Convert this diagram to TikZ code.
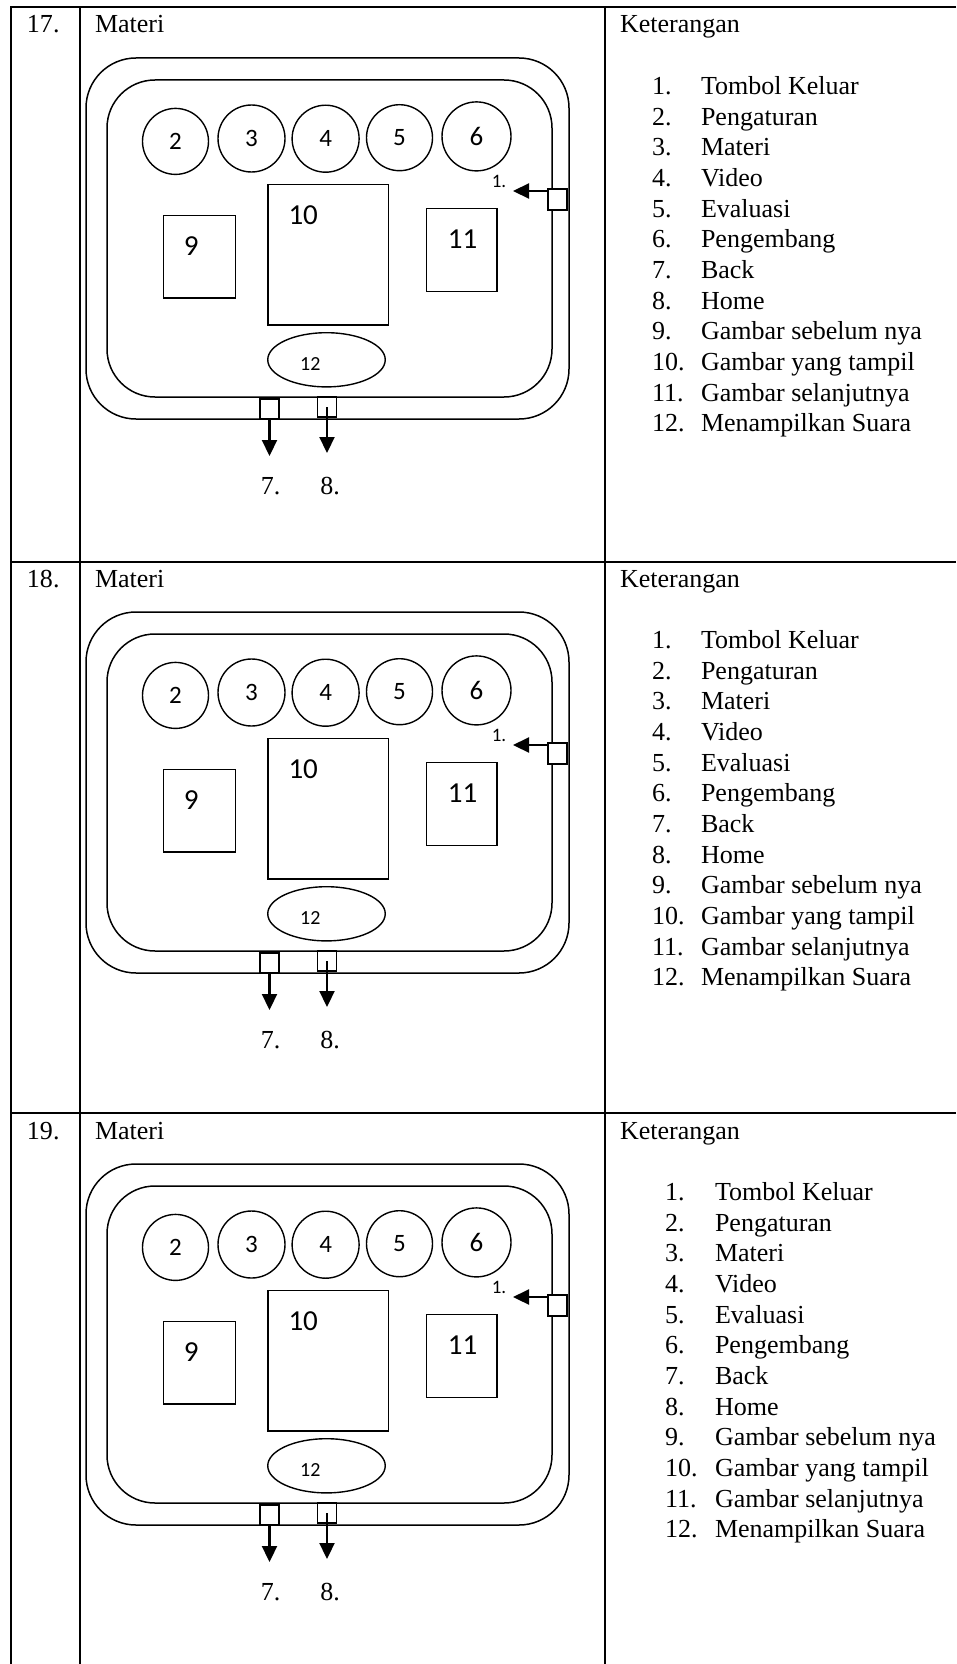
\documentclass[tikz,border=0pt]{standalone}
\usepackage{fontspec}
\setmainfont{Liberation Serif}
\newfontfamily\calibri{Carlito}
\usetikzlibrary{arrows.meta,shapes.geometric}

\begin{document}
\begin{tikzpicture}[x=1pt,y=-1pt,
  every node/.style={inner sep=0pt, outer sep=0pt},
  grid/.style={line width=1.8pt},
  shell/.style={draw, line width=1.5pt},
  btn/.style={draw, circle, line width=1.4pt, font=\calibri\fontsize{25}{25}\selectfont},
  pane/.style={draw, line width=1.4pt},
  paneno/.style={font=\calibri\fontsize{29}{29}\selectfont},
  key/.style={draw, fill=white, line width=1.4pt, minimum width=19pt, minimum height=20pt},
  arr/.style={line width=2.2pt, -{Triangle[length=16pt,width=15pt]}},
  serif/.style={font=\fontsize{26}{30.6}\selectfont, anchor=base west},
  tag/.style={font=\fontsize{26}{30.6}\selectfont, anchor=base},
]
\fill[white] (0,0) rectangle (956,1664);
\useasboundingbox (0,0) rectangle (956,1664);

% table rules
\draw[grid] (956,7.3) -- (11,7.3) -- (11,1664);
\draw[grid] (80,7.3) -- (80,1664);
\draw[grid] (605,7.3) -- (605,1664);
\draw[grid] (11,562) -- (956,562);
\draw[grid] (11,1113) -- (956,1113);

\foreach \i/\dy/\nx/\tx/\rw in {1/0/652/701/17, 2/554/652/701/18, 3/1106/665/715/19} {
  \begin{scope}[shift={(0,\dy)}]
    % row headings
    \node[serif] (no-\i) at (27,33) {\rw.};
    \node[serif] (ti-\i) at (95,33) {Materi};
    \node[serif] (ke-\i) at (620,33) {Keterangan};

    % screen frame
    \node[shell, rounded corners=50pt, minimum width=483pt, minimum height=361pt] (outer-\i) at (327.5,238.5) {};
    \node[shell, rounded corners=48pt, minimum width=445pt, minimum height=317pt] (inner-\i) at (329.5,238.5) {};

    % menu buttons
    \node[btn, minimum size=66pt] (c2-\i) at (175.5,141.4) {2};
    \node[btn, minimum size=67pt] (c3-\i) at (251.5,138.5) {3};
    \node[btn, minimum size=67pt] (c4-\i) at (325.6,138.7) {4};
    \node[btn, minimum size=66pt] (c5-\i) at (399.5,137.7) {5};
    \node[btn, minimum size=69pt, font=\calibri\fontsize{27}{27}\selectfont] (c6-\i) at (476.5,136.4) {6};

    % picture panes
    \node[pane, minimum width=72.5pt, minimum height=82.8pt] (p9-\i) at (199.5,256.7) {};
    \node[paneno] (l9-\i) at (191.3,246.4) {9};
    \node[pane, minimum width=120.6pt, minimum height=140.6pt] (p10-\i) at (328.1,254.6) {};
    \node[paneno] (l10-\i) at (303.2,215) {10};
    \node[pane, minimum width=70.6pt, minimum height=83.1pt] (p11-\i) at (461.6,250.2) {};
    \node[paneno] (l11-\i) at (462.6,239.2) {11};

    % sound button
    \node[pane, ellipse, minimum width=117.5pt, minimum height=54.2pt] (e12-\i) at (326.5,359.8) {};
    \node[font=\calibri\fontsize{20}{20}\selectfont] (l12-\i) at (310.3,363.7) {12};

    % edge keys
    \node[key, minimum height=21pt] (b1-\i) at (557.5,199.5) {};
    \node[key] (b7-\i) at (269.5,409) {};
    \node[key] (b8-\i) at (327,407) {};

    \coordinate (t1-\i) at (513,191);
    \coordinate (t7-\i) at (270,456);
    \coordinate (t8-\i) at (327,453);

    \draw[arr] (b1-\i.west |- t1-\i) -- (t1-\i);
    \draw[arr] (b7-\i.south) -- (b7-\i.south |- t7-\i);
    \draw[arr] (b8-\i.center) -- (b8-\i.center |- t8-\i);

    \node[font=\calibri\fontsize{19}{19}\selectfont, anchor=base] (k1-\i) at (499,187) {1.};
    \node[tag] (k7-\i) at (270.5,494) {7.};
    \node[tag] (k8-\i) at (330,494) {8.};

    % legend
    \foreach \n/\t [count=\k] in {1./Tombol Keluar, 2./Pengaturan, 3./Materi, 4./Video,
        5./Evaluasi, 6./Pengembang, 7./Back, 8./Home, 9./Gambar sebelum nya,
        10./Gambar yang tampil, 11./Gambar selanjutnya, 12./Menampilkan Suara} {
      \node[serif] (n\k-\i) at ({\nx},{94.6+30.67*(\k-1)}) {\n};
      \node[serif] (d\k-\i) at ({\tx},{94.6+30.67*(\k-1)}) {\t};
    }
  \end{scope}
}
\end{tikzpicture}
\end{document}
